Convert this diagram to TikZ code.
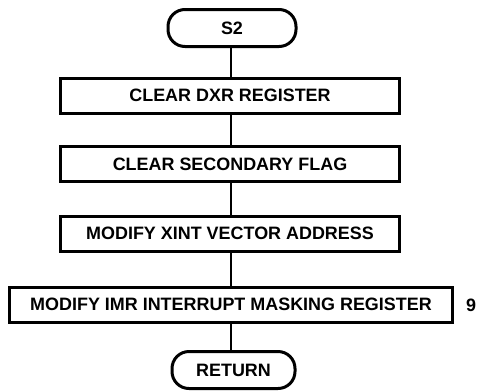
\documentclass[tikz,border=0pt]{standalone}
\usepackage{fontspec}
\setmainfont{Liberation Sans}
\begin{document}
\begin{tikzpicture}[x=1bp,y=-1bp,
  lbl/.style={font=\bfseries\fontsize{18}{20}\selectfont},
  box/.style={lbl,draw,line width=3bp,minimum height=35bp,inner sep=0pt},
  term/.style={lbl,draw,line width=3bp,rounded corners=17bp,minimum height=37bp,inner sep=0pt},
  conn/.style={line width=2.2bp}]
\useasboundingbox (0,0) rectangle (490,391);
\node[term,minimum width=128bp] (s2) at (232,28) {S2};
\node[box,minimum width=338bp] (b1) at (230,95.5) {CLEAR DXR REGISTER};
\node[box,minimum width=338bp] (b2) at (230,164) {CLEAR SECONDARY FLAG};
\node[box,minimum width=338bp] (b3) at (230,233.5) {MODIFY XINT VECTOR ADDRESS};
\node[box,minimum width=442bp] (b4) at (231,304.5) {MODIFY IMR INTERRUPT MASKING REGISTER};
\node[lbl] (n9) at (471,305) {9};
\node[term,minimum width=123bp] (ret) at (233.5,370) {RETURN};
\draw[conn] (s2.south -| 231,0) -- (b1.north -| 231,0);
\draw[conn] (b1.south -| 231,0) -- (b2.north -| 231,0);
\draw[conn] (b2.south -| 231,0) -- (b3.north -| 231,0);
\draw[conn] (b3.south -| 231,0) -- (b4.north -| 231,0);
\draw[conn] (b4.south -| 231,0) -- (ret.north -| 231,0);
\end{tikzpicture}
\end{document}
